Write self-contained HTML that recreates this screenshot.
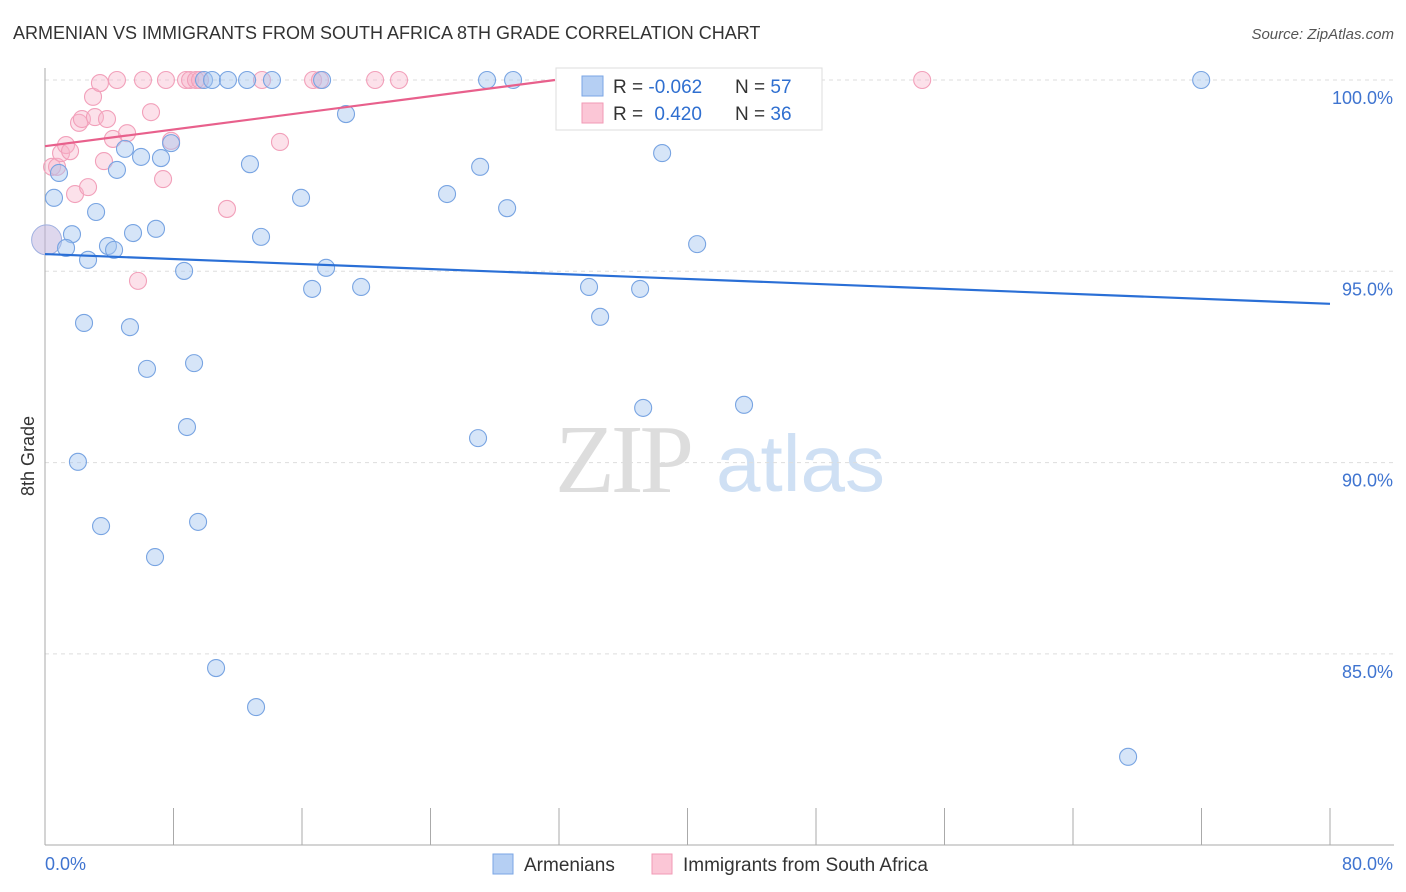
<!DOCTYPE html>
<html><head><meta charset="utf-8"><style>
body{margin:0;background:#fff;font-family:"Liberation Sans",sans-serif;}
svg{display:block}
</style></head><body>
<svg id="chart" width="1406" height="892">
<text x="13" y="39" font-size="18" fill="#333">ARMENIAN VS IMMIGRANTS FROM SOUTH AFRICA 8TH GRADE CORRELATION CHART</text>
<text x="1394" y="39" font-size="15" fill="#555" text-anchor="end" font-style="italic">Source: ZipAtlas.com</text>
<g>
<text x="555" y="492" font-size="98" fill="#ddd" font-family="Liberation Serif,serif" letter-spacing="-4">ZIP</text>
<text x="716" y="491" font-size="80" fill="#cfe0f4">atlas</text>
</g>
<g id="grid"></g>
<g id="axes"></g>
<g id="points"></g>
<g id="trends"></g>
<text transform="translate(34,456) rotate(-90)" font-size="18" fill="#333" text-anchor="middle">8th Grade</text>
<g>
<rect x="556" y="68" width="266" height="62" fill="#fff" stroke="#ddd"/>
<rect x="582" y="76" width="21" height="20" fill="#b5cff3" stroke="#7aa6e4"/>
<rect x="582" y="103" width="21" height="20" fill="#fbc6d6" stroke="#f29ab5"/>
<text x="613" y="93" font-size="19" fill="#333">R = <tspan fill="#2f6fd0">-0.062</tspan></text>
<text x="735" y="93" font-size="19" fill="#333">N = <tspan fill="#2f6fd0">57</tspan></text>
<text x="613" y="120" font-size="19" fill="#333">R = <tspan fill="#2f6fd0" dx="6">0.420</tspan></text>
<text x="735" y="120" font-size="19" fill="#333">N = <tspan fill="#2f6fd0">36</tspan></text>
</g>
<g>
<rect x="493" y="854" width="20" height="20" fill="#b5cff3" stroke="#7aa6e4"/>
<text x="524" y="871" font-size="19" fill="#333">Armenians</text>
<rect x="652" y="854" width="20" height="20" fill="#fbc6d6" stroke="#f29ab5"/>
<text x="683" y="871" font-size="19" fill="#333">Immigrants from South Africa</text>
</g>
</svg>
<script>
const xTicks=[0,8,16,24,32,40,48,56,64,72,80];
const yTicks=[100,95,90,85];
const yTickLabels=["100.0%","95.0%","90.0%","85.0%"];
const blueX=[0.56,0.87,1.68,1.31,2.68,3.18,3.92,4.30,4.48,4.98,5.48,5.98,6.91,7.22,7.85,8.66,2.43,5.29,6.35,9.28,8.84,2.05,3.49,9.53,6.85,10.65,13.14,9.90,10.40,11.39,12.58,14.13,17.25,12.76,13.45,15.94,18.74,17.50,16.63,19.68,25.03,27.09,28.77,27.52,29.14,33.87,34.56,37.05,38.42,40.60,37.24,43.52,26.96,71.98,67.43];
const blueY=[96.92,97.57,95.97,95.61,95.30,96.55,95.66,95.56,97.65,98.20,96.00,97.99,96.11,97.96,98.35,95.01,93.65,93.54,92.45,92.60,90.93,90.02,88.34,88.45,87.53,84.63,83.61,100,100,100,100,100,100,97.80,95.90,96.92,99.11,95.09,94.54,94.59,97.02,97.73,96.65,100,100,94.59,93.81,94.54,98.09,95.71,91.43,91.51,90.64,100,82.31];
const pinkX=[0.44,0.75,1.0,1.31,1.56,1.87,2.12,2.30,2.68,2.99,3.11,3.42,3.67,3.86,4.23,4.48,5.11,5.79,6.10,6.60,7.35,7.53,7.85,8.78,9.03,9.40,9.65,11.33,13.51,14.63,16.69,17.12,20.55,22.04,54.61];
const pinkY=[97.73,97.73,98.09,98.30,98.14,97.02,98.88,98.98,97.20,99.56,99.03,99.92,97.88,98.98,98.46,100,98.61,94.75,100,99.16,97.41,100,98.41,100,100,100,100,96.63,100,98.38,100,100,100,100,100];
const bigPoint=[0.1,95.82];
const blueTrend=[[0,95.45],[80,94.15]];
const pinkTrend=[[0,98.27],[31.75,100]];
const NS="http://www.w3.org/2000/svg";
function sx(v){return 45+v*(1285/80);}
function sy(v){return 80+(100-v)*38.26;}
function mk(t,a,p){const e=document.createElementNS(NS,t);for(const k in a)e.setAttribute(k,a[k]);p.appendChild(e);return e;}
const grid=document.getElementById('grid'),axes=document.getElementById('axes'),pts=document.getElementById('points'),tr=document.getElementById('trends');
yTicks.forEach((v,i)=>{
 const l=mk('line',{x1:45,x2:1394,y1:sy(v),y2:sy(v),stroke:'#ddd','stroke-dasharray':'4,4'},grid);
 
 
 const t=mk('text',{x:1393,y:sy(v)+24,'font-size':18,fill:'#3f74d0','text-anchor':'end'},axes);
 t.textContent=yTickLabels[i];
 
 
});
const ax=mk('line',{x1:45,x2:45,y1:68,y2:845,stroke:'#aaa'},axes);


const bx=mk('line',{x1:45,x2:1394,y1:845,y2:845,stroke:'#aaa'},axes);


xTicks.forEach(v=>{
 const l=mk('line',{x1:sx(v),x2:sx(v),y1:808,y2:845,stroke:'#aaa'},axes);
 
 
});
const xl0=mk('text',{x:45,y:870,'font-size':18,fill:'#3f74d0'},axes);xl0.textContent=xTicks[0].toFixed(1)+'%';


const xl1=mk('text',{x:1393,y:870,'font-size':18,fill:'#3f74d0','text-anchor':'end'},axes);xl1.textContent=xTicks[xTicks.length-1].toFixed(1)+'%';


const bp=mk('circle',{cx:sx(bigPoint[0]),cy:sy(bigPoint[1]),r:15,fill:'rgba(190,175,220,0.5)',stroke:'#9fb0e0'},pts);


pinkX.forEach((x,i)=>{
 const c=mk('circle',{cx:sx(x),cy:sy(pinkY[i]),r:8.5,fill:'rgba(248,180,202,0.4)',stroke:'#f2a0ba','stroke-width':1.1},pts);
 
 
});
blueX.forEach((x,i)=>{
 const c=mk('circle',{cx:sx(x),cy:sy(blueY[i]),r:8.5,fill:'rgba(165,198,240,0.45)',stroke:'#78a4e2','stroke-width':1.1},pts);
 
 
});
const b=mk('line',{x1:sx(blueTrend[0][0]),y1:sy(blueTrend[0][1]),x2:sx(blueTrend[1][0]),y2:sy(blueTrend[1][1]),stroke:'#2a6fd6','stroke-width':2.2},tr);


const p=mk('line',{x1:sx(pinkTrend[0][0]),y1:sy(pinkTrend[0][1]),x2:sx(pinkTrend[1][0]),y2:sy(pinkTrend[1][1]),stroke:'#e8608c','stroke-width':2.2},tr);


</script>
</body></html>
